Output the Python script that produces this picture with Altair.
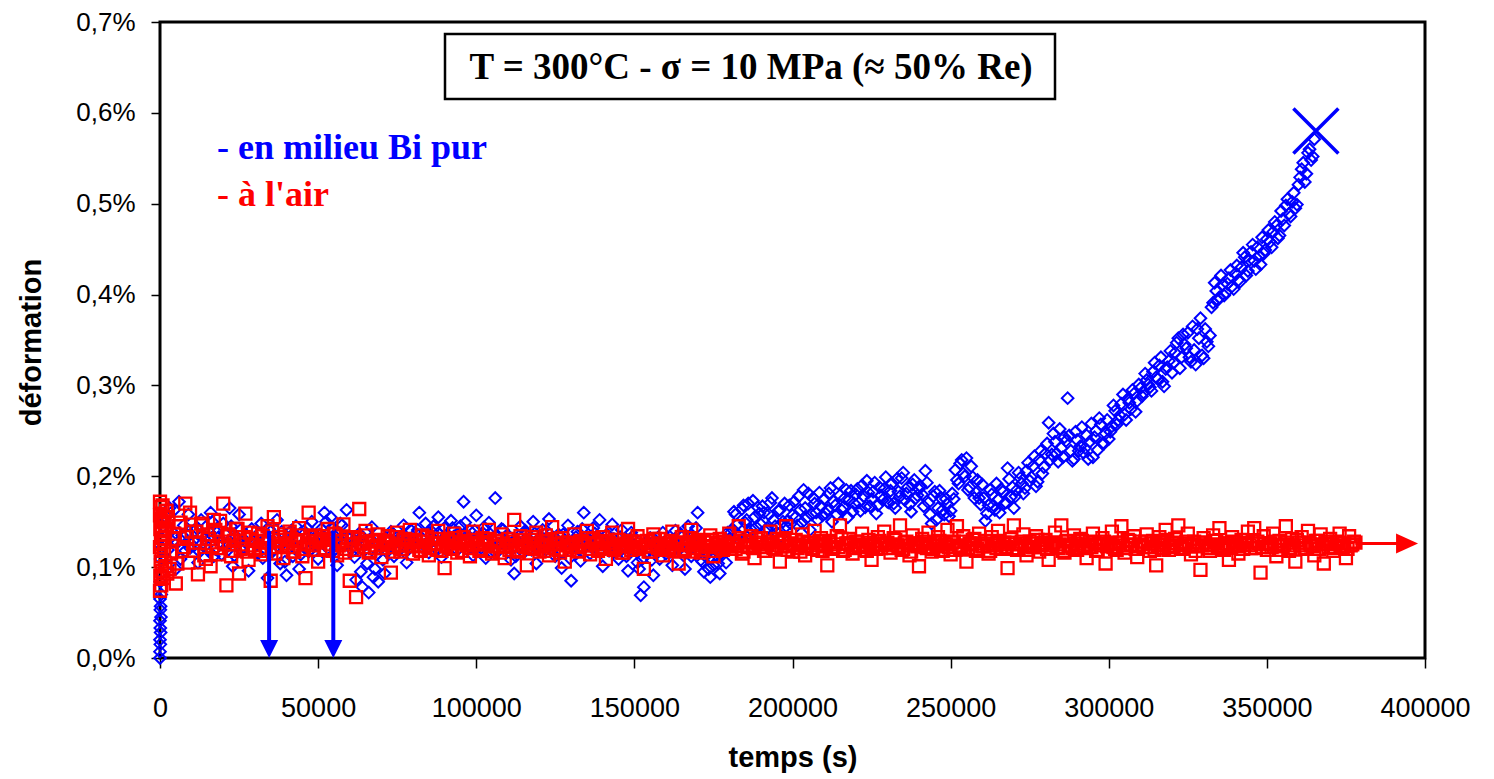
import altair as alt
import pandas as pd

SAMPLE_EVERY = 1000  # seconds between two logged points of one pass
HALF = 500           # second pass of the logger, shifted by half an interval

# ---- blue series: "en milieu Bi pur" (deformation in %) ----
blue_init_t = [0, 0, 100, 0, 200, 100, 0, 300, 100, 200, 0, 400, 100, 300, 200, 500]
blue_init_y = [0.000, 0.007, 0.015, 0.020, 0.028, 0.033, 0.041, 0.045, 0.053, 0.057,
               0.065, 0.070, 0.084, 0.094, 0.109, 0.121]
blue_y = [
    0.145, 0.110, 0.165, 0.128, 0.098, 0.172, 0.135, 0.118, 0.158, 0.125,
    0.140, 0.105, 0.152, 0.131, 0.119, 0.160, 0.112, 0.138, 0.127, 0.148,
    0.122, 0.165, 0.101, 0.134, 0.158, 0.118, 0.129, 0.096, 0.142, 0.126,
    0.115, 0.148, 0.131, 0.088, 0.139, 0.120, 0.152, 0.104, 0.127, 0.091,
    0.133, 0.112, 0.145, 0.098, 0.124, 0.138, 0.117, 0.150, 0.128, 0.109,
    0.142, 0.160, 0.121, 0.155, 0.135, 0.102, 0.148, 0.126, 0.163, 0.131,
    0.118, 0.086, 0.137, 0.078, 0.125, 0.072, 0.144, 0.098, 0.084, 0.121,
    0.093, 0.128, 0.139, 0.112, 0.133, 0.120, 0.146, 0.105, 0.131, 0.124,
    0.137, 0.160, 0.122, 0.148, 0.116, 0.139, 0.129, 0.155, 0.111, 0.143,
    0.126, 0.151, 0.134, 0.119, 0.145, 0.172, 0.128, 0.140, 0.113, 0.157,
    0.123, 0.138, 0.110, 0.149, 0.131, 0.176, 0.118, 0.142, 0.127, 0.135,
    0.108, 0.093, 0.129, 0.145, 0.116, 0.137, 0.121, 0.150, 0.104, 0.132,
    0.141, 0.119, 0.153, 0.127, 0.112, 0.136, 0.099, 0.130, 0.146, 0.085,
    0.124, 0.139, 0.107, 0.160, 0.131, 0.115, 0.143, 0.122, 0.152, 0.101,
    0.135, 0.118, 0.147, 0.126, 0.109, 0.141, 0.130, 0.096, 0.138, 0.121,
    0.105, 0.069, 0.078, 0.117, 0.132, 0.091, 0.124, 0.109, 0.138, 0.115,
    0.127, 0.102, 0.140, 0.119, 0.133, 0.098, 0.145, 0.112, 0.125, 0.160,
    0.108, 0.095, 0.117, 0.089, 0.102, 0.113, 0.093, 0.121, 0.105, 0.131,
    0.142, 0.158, 0.135, 0.164, 0.149, 0.170, 0.141, 0.155, 0.166, 0.147,
    0.160, 0.143, 0.171, 0.152, 0.138, 0.163, 0.150, 0.145, 0.168, 0.157,
    0.155, 0.178, 0.149, 0.165, 0.181, 0.158, 0.170, 0.152, 0.167, 0.175,
    0.163, 0.187, 0.172, 0.158, 0.179, 0.166, 0.185, 0.174, 0.161, 0.180,
    0.171, 0.190, 0.166, 0.182, 0.175, 0.193, 0.168, 0.179, 0.186, 0.172,
    0.184, 0.170, 0.197, 0.178, 0.204, 0.181, 0.169, 0.191, 0.176, 0.186,
    0.180, 0.206, 0.171, 0.148, 0.183, 0.165, 0.176, 0.158, 0.169, 0.162,
    0.175, 0.196, 0.214, 0.203, 0.220, 0.188, 0.199, 0.182, 0.176, 0.191,
    0.151, 0.168, 0.180, 0.163, 0.174, 0.186, 0.170, 0.209, 0.177, 0.165,
    0.185, 0.198, 0.181, 0.206, 0.195, 0.211, 0.189, 0.218, 0.203, 0.225,
    0.259, 0.224, 0.238, 0.216, 0.231, 0.243, 0.286, 0.228, 0.219, 0.240,
    0.233, 0.226, 0.245, 0.238, 0.221, 0.250, 0.264, 0.236, 0.247, 0.241,
    0.255, 0.272, 0.262, 0.280, 0.268, 0.285, 0.274, 0.291, 0.283, 0.297,
    0.292, 0.306, 0.298, 0.315, 0.309, 0.322, 0.304, 0.318, 0.327, 0.314,
    0.336, 0.352, 0.331, 0.345, 0.358, 0.326, 0.339, 0.362, 0.374, 0.330,
    0.348, 0.355, 0.391, 0.404, 0.397, 0.411, 0.402, 0.418, 0.409, 0.423,
    0.416, 0.430, 0.441, 0.426, 0.447, 0.437, 0.452, 0.433, 0.445, 0.461,
    0.458, 0.469, 0.476, 0.465, 0.483, 0.498, 0.489, 0.502, 0.495, 0.521,
    0.538, 0.524, 0.556, 0.548, 0.571,
]
blue_y_b = [
    0.132, 0.151, 0.119, 0.140, 0.163, 0.127, 0.109, 0.146, 0.136, 0.121,
    0.129, 0.143, 0.117, 0.135, 0.124, 0.139, 0.150, 0.120, 0.133, 0.114,
    0.137, 0.126, 0.145, 0.113, 0.130, 0.141, 0.122, 0.134, 0.118, 0.128,
    0.124, 0.136, 0.110, 0.129, 0.142, 0.117, 0.131, 0.122, 0.139, 0.106,
    0.128, 0.140, 0.121, 0.133, 0.114, 0.126, 0.143, 0.119, 0.131, 0.124,
    0.136, 0.127, 0.150, 0.131, 0.142, 0.120, 0.138, 0.146, 0.125, 0.133,
    0.127, 0.111, 0.129, 0.095, 0.118, 0.104, 0.131, 0.089, 0.114, 0.126,
    0.108, 0.131, 0.122, 0.137, 0.119, 0.128, 0.134, 0.116, 0.125, 0.140,
    0.129, 0.141, 0.133, 0.124, 0.138, 0.127, 0.145, 0.121, 0.136, 0.130,
    0.135, 0.124, 0.143, 0.131, 0.138, 0.126, 0.149, 0.133, 0.122, 0.140,
    0.130, 0.121, 0.144, 0.127, 0.136, 0.118, 0.133, 0.125, 0.141, 0.129,
    0.117, 0.127, 0.112, 0.134, 0.124, 0.140, 0.128, 0.119, 0.137, 0.125,
    0.132, 0.126, 0.139, 0.120, 0.130, 0.124, 0.115, 0.136, 0.127, 0.110,
    0.128, 0.133, 0.119, 0.142, 0.125, 0.131, 0.122, 0.137, 0.129, 0.116,
    0.127, 0.136, 0.122, 0.131, 0.118, 0.133, 0.125, 0.112, 0.129, 0.134,
    0.118, 0.098, 0.109, 0.126, 0.121, 0.108, 0.130, 0.117, 0.125, 0.122,
    0.131, 0.117, 0.128, 0.124, 0.137, 0.113, 0.129, 0.121, 0.134, 0.143,
    0.118, 0.106, 0.112, 0.098, 0.110, 0.121, 0.104, 0.115, 0.124, 0.138,
    0.138, 0.161, 0.147, 0.129, 0.168, 0.152, 0.136, 0.173, 0.144, 0.159,
    0.167, 0.139, 0.158, 0.176, 0.145, 0.162, 0.134, 0.170, 0.151, 0.148,
    0.172, 0.146, 0.163, 0.185, 0.154, 0.141, 0.176, 0.160, 0.182, 0.157,
    0.159, 0.181, 0.150, 0.168, 0.192, 0.163, 0.176, 0.155, 0.184, 0.170,
    0.186, 0.162, 0.178, 0.195, 0.167, 0.183, 0.159, 0.188, 0.174, 0.199,
    0.171, 0.192, 0.165, 0.183, 0.198, 0.174, 0.188, 0.161, 0.196, 0.179,
    0.189, 0.167, 0.193, 0.158, 0.178, 0.152, 0.184, 0.163, 0.175, 0.156,
    0.181, 0.207, 0.192, 0.218, 0.200, 0.185, 0.211, 0.176, 0.196, 0.169,
    0.176, 0.159, 0.185, 0.168, 0.192, 0.160, 0.183, 0.171, 0.197, 0.188,
    0.178, 0.204, 0.192, 0.187, 0.215, 0.199, 0.222, 0.194, 0.228, 0.210,
    0.236, 0.218, 0.247, 0.225, 0.252, 0.221, 0.239, 0.245, 0.217, 0.249,
    0.228, 0.254, 0.231, 0.219, 0.258, 0.243, 0.229, 0.257, 0.236, 0.262,
    0.249, 0.278, 0.257, 0.267, 0.290, 0.262, 0.281, 0.295, 0.271, 0.301,
    0.288, 0.313, 0.301, 0.294, 0.325, 0.307, 0.331, 0.299, 0.320, 0.338,
    0.325, 0.347, 0.319, 0.356, 0.341, 0.331, 0.365, 0.323, 0.352, 0.333,
    0.362, 0.343, 0.386, 0.413, 0.394, 0.421, 0.399, 0.412, 0.427, 0.406,
    0.432, 0.414, 0.446, 0.421, 0.438, 0.455, 0.428, 0.442, 0.463, 0.449,
    0.471, 0.452, 0.480, 0.462, 0.492, 0.476, 0.505, 0.486, 0.512, 0.499,
    0.529, 0.545, 0.533, 0.560, 0.552,
]

# ---- red series: "à l'air" ----
red_init_t = [0, 200, 0, 400, 100, 600, 300, 0, 500, 200, 700, 100, 400, 0,
              800, 1200, 1500, 900, 1300, 1700, 1100, 2000, 1600, 2300]
red_init_y = [0.172, 0.166, 0.157, 0.151, 0.142, 0.137, 0.127, 0.122, 0.112, 0.106,
              0.096, 0.090, 0.080, 0.074, 0.168, 0.155, 0.147, 0.132, 0.118, 0.101,
              0.088, 0.162, 0.140, 0.093]
red_y = [
    0.150, 0.162, 0.098, 0.131, 0.082, 0.145, 0.118, 0.170, 0.105, 0.139,
    0.127, 0.092, 0.148, 0.113, 0.136, 0.101, 0.152, 0.121, 0.151, 0.170,
    0.080, 0.134, 0.118, 0.142, 0.093, 0.125, 0.159, 0.108, 0.131, 0.119,
    0.137, 0.114, 0.128, 0.145, 0.085, 0.155, 0.122, 0.133, 0.110, 0.126,
    0.139, 0.117, 0.129, 0.143, 0.112, 0.088, 0.160, 0.124, 0.135, 0.106,
    0.131, 0.119, 0.142, 0.125, 0.137, 0.113, 0.128, 0.147, 0.120, 0.085,
    0.133, 0.067, 0.164, 0.126, 0.140, 0.116, 0.129, 0.121, 0.136, 0.111,
    0.127, 0.134, 0.094, 0.122, 0.138, 0.117, 0.130, 0.124, 0.141, 0.115,
    0.128, 0.119, 0.135, 0.123, 0.113, 0.131, 0.126, 0.140, 0.118, 0.099,
    0.130, 0.121, 0.137, 0.116, 0.127, 0.133, 0.124, 0.112, 0.139, 0.125,
    0.118, 0.132, 0.126, 0.141, 0.115, 0.129, 0.123, 0.136, 0.110, 0.131,
    0.124, 0.152, 0.119, 0.134, 0.127, 0.102, 0.130, 0.121, 0.138, 0.117,
    0.128, 0.135, 0.113, 0.144, 0.125, 0.119, 0.132, 0.106, 0.127, 0.122,
    0.136, 0.118, 0.129, 0.124, 0.140, 0.114, 0.131, 0.126, 0.120, 0.133,
    0.109, 0.127, 0.138, 0.121, 0.130, 0.116, 0.124, 0.142, 0.119, 0.128,
    0.134, 0.122, 0.098, 0.129, 0.117, 0.136, 0.123, 0.131, 0.113, 0.126,
    0.120, 0.139, 0.127, 0.104, 0.133, 0.118, 0.125, 0.141, 0.121, 0.130,
    0.116, 0.128, 0.123, 0.135, 0.112, 0.127, 0.131, 0.119, 0.124, 0.137,
    0.126, 0.120, 0.145, 0.115, 0.129, 0.122, 0.134, 0.110, 0.127, 0.132,
    0.118, 0.125, 0.139, 0.121, 0.131, 0.106, 0.128, 0.145, 0.123, 0.117,
    0.130, 0.124, 0.136, 0.113, 0.127, 0.121, 0.140, 0.119, 0.132, 0.125,
    0.102, 0.129, 0.122, 0.134, 0.146, 0.118, 0.126, 0.131, 0.115, 0.128,
    0.123, 0.137, 0.119, 0.130, 0.108, 0.125, 0.133, 0.121, 0.139, 0.127,
    0.116, 0.132, 0.124, 0.146, 0.120, 0.128, 0.113, 0.135, 0.126, 0.101,
    0.131, 0.122, 0.138, 0.117, 0.127, 0.133, 0.119, 0.125, 0.141, 0.114,
    0.128, 0.145, 0.121, 0.134, 0.106, 0.126, 0.130, 0.118, 0.137, 0.123,
    0.129, 0.115, 0.133, 0.124, 0.140, 0.120, 0.127, 0.099, 0.131, 0.146,
    0.119, 0.126, 0.136, 0.113, 0.128, 0.122, 0.134, 0.117, 0.125, 0.130,
    0.108, 0.127, 0.138, 0.121, 0.146, 0.116, 0.129, 0.124, 0.135, 0.119,
    0.131, 0.123, 0.110, 0.128, 0.137, 0.118, 0.126, 0.132, 0.104, 0.125,
    0.139, 0.120, 0.127, 0.145, 0.116, 0.130, 0.124, 0.134, 0.111, 0.128,
    0.122, 0.136, 0.118, 0.129, 0.102, 0.133, 0.125, 0.141, 0.119, 0.127,
    0.131, 0.146, 0.121, 0.126, 0.137, 0.114, 0.128, 0.123, 0.097, 0.132,
    0.124, 0.118, 0.135, 0.129, 0.143, 0.120, 0.126, 0.108, 0.133, 0.127,
    0.115, 0.130, 0.125, 0.139, 0.121, 0.143, 0.128, 0.094, 0.134, 0.119,
    0.126, 0.137, 0.112, 0.129, 0.123, 0.145, 0.118, 0.131, 0.106, 0.127,
    0.133, 0.120, 0.140, 0.124, 0.113, 0.129, 0.136, 0.104, 0.126, 0.131,
    0.118, 0.128, 0.137, 0.122, 0.110, 0.134, 0.125, 0.127,
]
red_y_b = [
    0.142, 0.128, 0.155, 0.115, 0.137, 0.104, 0.149, 0.122, 0.133, 0.160,
    0.118, 0.139, 0.127, 0.146, 0.109, 0.131, 0.123, 0.141, 0.114, 0.128,
    0.125, 0.136, 0.112, 0.129, 0.142, 0.120, 0.133, 0.117, 0.138, 0.124,
    0.129, 0.121, 0.134, 0.118, 0.127, 0.139, 0.115, 0.130, 0.124, 0.136,
    0.122, 0.131, 0.117, 0.128, 0.135, 0.120, 0.126, 0.133, 0.119, 0.129,
    0.127, 0.134, 0.121, 0.130, 0.118, 0.136, 0.124, 0.129, 0.116, 0.132,
    0.125, 0.119, 0.131, 0.127, 0.122, 0.135, 0.118, 0.128, 0.124, 0.130,
    0.121, 0.129, 0.126, 0.117, 0.133, 0.124, 0.120, 0.131, 0.127, 0.123,
    0.130, 0.124, 0.118, 0.128, 0.133, 0.121, 0.126, 0.119, 0.131, 0.125,
    0.123, 0.128, 0.120, 0.132, 0.126, 0.118, 0.129, 0.124, 0.121, 0.130,
    0.127, 0.120, 0.125, 0.131, 0.118, 0.123, 0.129, 0.116, 0.126, 0.122,
    0.119, 0.128, 0.124, 0.117, 0.130, 0.122, 0.126, 0.133, 0.120, 0.125,
    0.123, 0.118, 0.129, 0.125, 0.121, 0.131, 0.116, 0.127, 0.124, 0.119,
    0.126, 0.122, 0.117, 0.128, 0.124, 0.132, 0.120, 0.125, 0.118, 0.129,
    0.121, 0.127, 0.124, 0.119, 0.130, 0.123, 0.116, 0.126, 0.128, 0.122,
    0.125, 0.120, 0.128, 0.123, 0.117, 0.126, 0.131, 0.121, 0.124, 0.119,
    0.122, 0.129, 0.118, 0.125, 0.127, 0.120, 0.124, 0.132, 0.117, 0.126,
    0.124, 0.119, 0.127, 0.122, 0.130, 0.118, 0.125, 0.121, 0.128, 0.123,
    0.120, 0.126, 0.123, 0.129, 0.117, 0.124, 0.127, 0.121, 0.131, 0.125,
    0.122, 0.118, 0.128, 0.124, 0.120, 0.127, 0.123, 0.130, 0.119, 0.126,
    0.125, 0.121, 0.117, 0.128, 0.123, 0.126, 0.120, 0.124, 0.129, 0.118,
    0.123, 0.127, 0.120, 0.125, 0.122, 0.131, 0.119, 0.126, 0.124, 0.121,
    0.128, 0.122, 0.125, 0.118, 0.127, 0.123, 0.120, 0.129, 0.124, 0.126,
    0.121, 0.125, 0.130, 0.122, 0.119, 0.127, 0.124, 0.117, 0.126, 0.123,
    0.124, 0.128, 0.121, 0.126, 0.120, 0.123, 0.129, 0.118, 0.125, 0.122,
    0.127, 0.119, 0.124, 0.122, 0.128, 0.121, 0.125, 0.131, 0.120, 0.126,
    0.123, 0.126, 0.118, 0.124, 0.121, 0.129, 0.125, 0.122, 0.127, 0.120,
    0.125, 0.121, 0.128, 0.123, 0.119, 0.126, 0.122, 0.130, 0.124, 0.127,
    0.120, 0.124, 0.127, 0.122, 0.125, 0.118, 0.128, 0.123, 0.121, 0.126,
    0.124, 0.129, 0.121, 0.125, 0.122, 0.127, 0.119, 0.124, 0.128, 0.123,
    0.126, 0.122, 0.119, 0.127, 0.124, 0.121, 0.129, 0.125, 0.120, 0.123,
    0.125, 0.128, 0.122, 0.126, 0.119, 0.124, 0.127, 0.121, 0.130, 0.123,
    0.122, 0.126, 0.124, 0.120, 0.128, 0.123, 0.125, 0.118, 0.127, 0.124,
    0.127, 0.121, 0.125, 0.129, 0.122, 0.124, 0.119, 0.126, 0.123, 0.128,
    0.123, 0.125, 0.120, 0.127, 0.124, 0.129, 0.121, 0.126, 0.122, 0.125,
    0.126, 0.122, 0.128, 0.124, 0.119, 0.125, 0.127, 0.121, 0.124, 0.130,
    0.124, 0.127, 0.121, 0.126, 0.123, 0.129, 0.120, 0.125, 0.128, 0.122,
    0.125, 0.121, 0.127, 0.123, 0.126, 0.120, 0.124, 0.128,
]

# ---- annotations (data coordinates) ----
arrow_t = [34500, 54800]        # blue arrows pointing to the axis
arrow_top = [0.140, 0.140]
arrow_tip = [0.0, 0.0]
rupture_t = [365500]            # big blue cross (rupture)
rupture_y = [0.580]
air_arrow_t = [378000]          # red arrow: test still running
air_arrow_tip = [397800]
air_arrow_y = [0.126]

x_ticks = [0, 50000, 100000, 150000, 200000, 250000, 300000, 350000, 400000]
y_ticks = [0.0, 0.1, 0.2, 0.3, 0.4, 0.5, 0.6, 0.7]

BLUE = "#0000FF"
RED = "#FF0000"

blue_df = pd.DataFrame({
    "t": blue_init_t
         + [SAMPLE_EVERY * (i + 1) for i in range(len(blue_y))]
         + [HALF + SAMPLE_EVERY * i for i in range(len(blue_y_b))],
    "y": blue_init_y + blue_y + blue_y_b,
})
red_df = pd.DataFrame({
    "t": red_init_t
         + [SAMPLE_EVERY * (i + 1) for i in range(len(red_y))]
         + [HALF + SAMPLE_EVERY * i for i in range(len(red_y_b))],
    "y": red_init_y + red_y + red_y_b,
})
arrows_df = pd.DataFrame({"t": arrow_t, "y": arrow_top,
                          "y2": [v + 0.018 for v in arrow_tip], "tip": arrow_tip})
rupture_df = pd.DataFrame({"t": rupture_t, "y": rupture_y})
air_df = pd.DataFrame({"t": air_arrow_t, "t2": [v - 6000 for v in air_arrow_tip],
                       "tip": air_arrow_tip, "y": air_arrow_y})
one = pd.DataFrame({"a": [0]})

x_scale = alt.Scale(domain=[0, 400000], nice=False, zero=False)
y_scale = alt.Scale(domain=[0, 0.7], nice=False)

x_axis = alt.Axis(
    title="temps (s)", values=x_ticks, format="d", grid=False, domain=False,
    ticks=True, tickSize=10, tickWidth=1.5, tickColor="black",
    labelFont="Liberation Sans", labelFontSize=27, labelColor="black", labelPadding=27,
    labelFlush=False, labelOverlap=False,
    titleFont="Liberation Sans", titleFontSize=29, titleFontWeight="bold", titleColor="black",
    titleY=108, titleBaseline="alphabetic",
)
y_axis = alt.Axis(
    title="déformation", values=y_ticks, grid=False, domain=False,
    labelExpr="replace(format(datum.value, '.1f'), '.', ',') + '%'",
    ticks=True, tickSize=9, tickWidth=1.5, tickColor="black",
    labelFont="Liberation Sans", labelFontSize=26, labelColor="black", labelPadding=16,
    labelFlush=False, labelOverlap=False,
    titleFont="Liberation Sans", titleFontSize=29, titleFontWeight="bold", titleColor="black",
    titleAngle=270, titleX=-129, titleY=320, titleAlign="center", titleBaseline="middle",
)

X = alt.X("t:Q", scale=x_scale, axis=x_axis)
Y = alt.Y("y:Q", scale=y_scale, axis=y_axis)

blue_pts = alt.Chart(blue_df).mark_point(
    shape="diamond", filled=False, size=135, strokeWidth=2, color=BLUE, opacity=1
).encode(x=X, y=Y)

red_pts = alt.Chart(red_df).mark_point(
    shape="square", filled=False, size=144, strokeWidth=2.3, color=RED, opacity=1
).encode(x=X, y=Y)

arrow_shafts = alt.Chart(arrows_df).mark_rule(color=BLUE, strokeWidth=4).encode(
    x=X, y=Y, y2="y2:Q"
)
arrow_heads = alt.Chart(arrows_df).mark_point(
    shape="M-1,-2L1,-2L0,0Z", filled=True, size=324, color=BLUE, opacity=1
).encode(x=X, y=alt.Y("tip:Q", scale=y_scale, axis=y_axis))

air_shaft = alt.Chart(air_df).mark_rule(color=RED, strokeWidth=3).encode(
    x=X, x2="t2:Q", y=Y
)
air_head = alt.Chart(air_df).mark_point(
    shape="M0,0L-2.2,-1L-2.2,1Z", filled=True, size=400, color=RED, opacity=1
).encode(x=alt.X("tip:Q", scale=x_scale, axis=x_axis), y=Y)

rupture = alt.Chart(rupture_df).mark_point(
    shape="M-1,-1L1,1M-1,1L1,-1", filled=False, size=2025, strokeWidth=3.5,
    color=BLUE, opacity=1
).encode(x=X, y=Y)

box = alt.Chart(one).mark_rect(fill="white", stroke="black", strokeWidth=2.5).encode(
    x=alt.value(285), x2=alt.value(895), y=alt.value(12), y2=alt.value(77)
)
box_text = alt.Chart(one).mark_text(
    font="Liberation Serif", fontWeight="bold", fontSize=37, color="black",
    align="center", baseline="middle"
).encode(x=alt.value(591), y=alt.value(46), text=alt.value("T = 300°C - σ = 10 MPa (≈ 50% Re)"))

leg_blue = alt.Chart(one).mark_text(
    font="Liberation Serif", fontWeight="bold", fontSize=36, color=BLUE,
    align="left", baseline="alphabetic"
).encode(x=alt.value(57), y=alt.value(137), text=alt.value("- en milieu Bi pur"))
leg_red = alt.Chart(one).mark_text(
    font="Liberation Serif", fontWeight="bold", fontSize=36, color=RED,
    align="left", baseline="alphabetic"
).encode(x=alt.value(57), y=alt.value(184), text=alt.value("- à l'air"))

chart = alt.layer(
    blue_pts, red_pts, arrow_shafts, arrow_heads, air_shaft, air_head, rupture,
    box, box_text, leg_blue, leg_red
).properties(
    width=1265, height=636,
    autosize=alt.AutoSizeParams(type="none"),
    padding={"left": 152, "top": 14, "right": 60, "bottom": 120},
    background="white",
).configure_view(
    stroke="black", strokeWidth=3
)

chart.save("out.html", embed_options={"renderer": "svg", "actions": False})
